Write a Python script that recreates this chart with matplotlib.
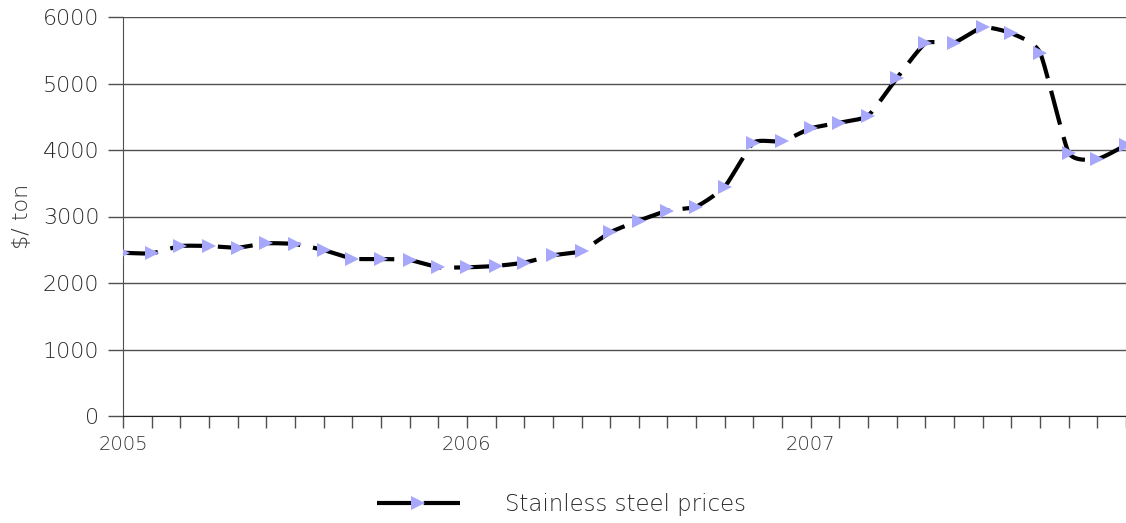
import numpy as np
import matplotlib.pyplot as plt
from matplotlib.lines import Line2D

# monthly stainless steel prices, Jan 2005 .. Dec 2007 ($/ton)
months = np.arange(36)
prices = [2455, 2446, 2556, 2556, 2531, 2597, 2586, 2496, 2366, 2361, 2346, 2236,
          2236, 2256, 2306, 2416, 2481, 2762, 2937, 3087, 3148, 3449, 4110, 4130,
          4326, 4411, 4516, 5078, 5604, 5614, 5845, 5755, 5464, 3960, 3865, 4075]
year_labels = ["2005", "2006", "2007"]
y_ticks = [0, 1000, 2000, 3000, 4000, 5000, 6000]
series_name = "Stainless steel prices"

LINE_BLUE = "#a7a7fb"
GRID = "#505050"
TEXT = "#2a2a2a"


def smooth(x, y, k=0.09, n=20):
    # cubic bezier through every point with soft tangents ("smoothed line")
    p = np.column_stack([x, y]).astype(float)
    p = np.vstack([p[0], p, p[-1]])
    t = np.linspace(0, 1, n)[:, None]
    out = []
    for i in range(1, len(p) - 2):
        p0, p1, p2, p3 = p[i - 1], p[i], p[i + 1], p[i + 2]
        b1 = p1 + (p2 - p0) * k
        b2 = p2 - (p3 - p1) * k
        seg = ((1 - t) ** 3) * p1 + 3 * ((1 - t) ** 2) * t * b1 + 3 * (1 - t) * t ** 2 * b2 + t ** 3 * p2
        out.append(seg if i == 1 else seg[1:])
    seg = np.vstack(out)
    return seg[:, 0], seg[:, 1]


plt.rcParams['font.family'] = ['DejaVu Sans']
plt.rcParams['font.weight'] = 'light'
plt.rcParams['axes.labelweight'] = 'light'

fig = plt.figure(figsize=(11.26, 5.23), dpi=100)
ax = fig.add_axes([123 / 1126, 107 / 523, 1003 / 1126, 399 / 523])

sx, sy = smooth(months, prices)
ax.plot(sx, sy, color="black", lw=3, dashes=(8.4, 3.1), dash_capstyle="butt", zorder=3)
ax.plot(months, prices, ls="none", marker=">", ms=10.5, color=LINE_BLUE,
        markeredgewidth=0, zorder=4)

ax.set_xlim(0, 35)
ax.set_ylim(0, 6000)
ax.set_yticks(y_ticks)
ax.set_yticklabels([str(v) for v in y_ticks], fontsize=16, color=TEXT)
ax.tick_params(axis="y", length=11, width=1, color=GRID, pad=6)
ax.yaxis.grid(True, color=GRID, lw=1)
ax.set_axisbelow(True)

ax.set_xticks(months)
ax.set_xticklabels([year_labels[m // 12] if m % 12 == 0 else "" for m in months],
                   fontsize=14, color="#333333")
ax.tick_params(axis="x", length=8.6, width=1, color=GRID, pad=5)

for side in ("top", "right"):
    ax.spines[side].set_visible(False)
ax.spines["left"].set_color(GRID)
ax.spines["bottom"].set_color("#222222")

ax.set_ylabel("$/ ton", fontsize=16, color="#333333", labelpad=8)

handle = Line2D([], [], color="black", lw=3, dashes=(9.2, 2.0), marker=">", ms=10.5,
                markerfacecolor=LINE_BLUE, markeredgewidth=0)
fig.legend([handle], [series_name], loc="center left", bbox_to_anchor=(377 / 1126, 1 - 505 / 523),
           frameon=False, fontsize=16.5, handlelength=3.6, handletextpad=2.0,
           borderpad=0, borderaxespad=0, labelcolor=TEXT)

fig.savefig("out.png", dpi=100)
